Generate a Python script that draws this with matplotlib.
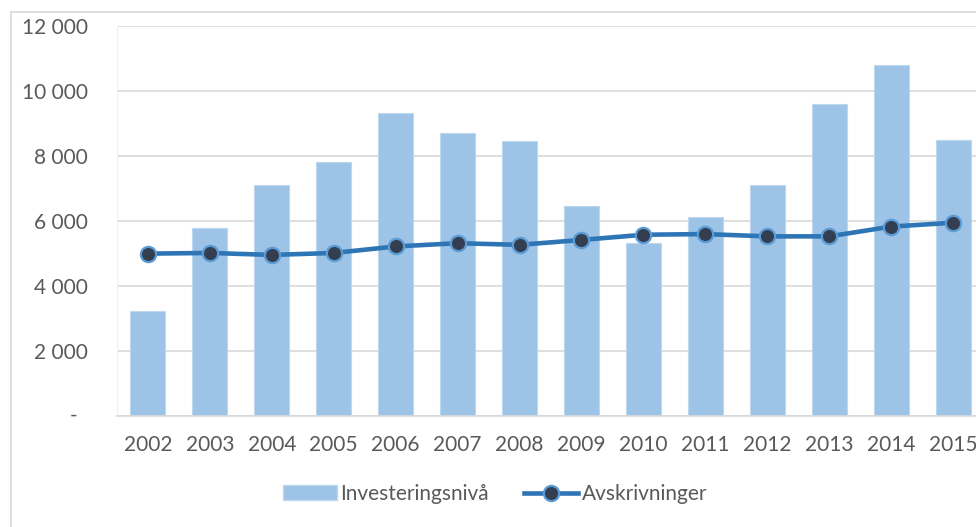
import matplotlib
matplotlib.use("Agg")
import matplotlib.pyplot as plt
from matplotlib.patches import Rectangle
from matplotlib.lines import Line2D
from matplotlib.ticker import FuncFormatter
import matplotlib.transforms as mtransforms

years = ["2002", "2003", "2004", "2005", "2006", "2007", "2008",
         "2009", "2010", "2011", "2012", "2013", "2014", "2015"]
investering = [3230, 5790, 7110, 7810, 9310, 8700, 8460,
               6440, 5310, 6110, 7110, 9600, 10800, 8490]
avskrivninger = [4990, 5010, 4950, 5010, 5210, 5310, 5260,
                 5410, 5570, 5590, 5520, 5520, 5820, 5940]
yticks = [0, 2000, 4000, 6000, 8000, 10000, 12000]

plt.rcParams['font.family'] = ['Lato', 'DejaVu Sans']
txt = '#595959'
fs = 15

fig = plt.figure(figsize=(9.76, 5.27), dpi=100)
W, H = 976, 527

# outer chart frame (cropped on right/bottom)
fig.patches.append(Rectangle((10.5 / W, -0.1), 1.2, (H - 11.5) / H + 0.1,
                             transform=fig.transFigure, fill=False,
                             edgecolor='#D9D9D9', linewidth=1.2, zorder=0))

left, right, top, bottom = 117, 984, 25.5, 416
ax = fig.add_axes([left / W, (H - bottom) / H, (right - left) / W, (bottom - top) / H])
x = list(range(len(years)))

ax.bar(x, investering, width=0.565, color='#9DC3E6', edgecolor='#BDD7EE',
       linewidth=0.8, zorder=2, label='Investeringsnivå')
ax.plot(x, avskrivninger, color='#2E75B6', linewidth=3.3, marker='o',
        markersize=11, markerfacecolor='#333F50', markeredgecolor='#5B9BD5',
        markeredgewidth=1.6, zorder=3, label='Avskrivninger')

ax.set_xlim(-0.5, len(years) - 0.5)
ax.set_ylim(0, 12000)
ax.set_yticks(yticks)
ax.yaxis.set_major_formatter(FuncFormatter(
    lambda v, p: '' if v == 0 else f"{int(v):,}".replace(',', ' ')))
ax.set_xticks(x)
ax.set_xticklabels(years)
ax.tick_params(axis='y', length=0, pad=21, labelsize=fs, labelcolor=txt)
ax.tick_params(axis='x', length=0, pad=14, labelsize=fs, labelcolor=txt)

ax.grid(axis='y', color='#D9D9D9', linewidth=1.2, zorder=0)
ax.set_axisbelow(True)
for s in ['top', 'right']:
    ax.spines[s].set_visible(False)
ax.spines['left'].set_color('#F2F2F2')
ax.spines['left'].set_linewidth(0.8)
ax.spines['bottom'].set_color('#D9D9D9')
ax.spines['bottom'].set_linewidth(1.2)

# zero label shown as a dash
trans = mtransforms.blended_transform_factory(fig.transFigure, ax.transData)
ax.text(74 / W, 0, '-', transform=trans, ha='center', va='center',
        fontsize=fs, color=txt)

handles = [Rectangle((0, 0), 1, 1, facecolor='#9DC3E6', edgecolor='#BDD7EE'),
           Line2D([0], [0], color='#2E75B6', linewidth=3.3, marker='o',
                  markersize=11, markerfacecolor='#333F50',
                  markeredgecolor='#5B9BD5', markeredgewidth=1.6)]
fig.legend(handles, ['Investeringsnivå', 'Avskrivninger'], loc='center',
           bbox_to_anchor=(495 / W, 1 - 494 / H), ncol=2, frameon=False,
           fontsize=fs, labelcolor=txt, handlelength=2.6, handletextpad=0.15,
           columnspacing=1.7, handleheight=0.7)

fig.savefig('out.png', dpi=100)
